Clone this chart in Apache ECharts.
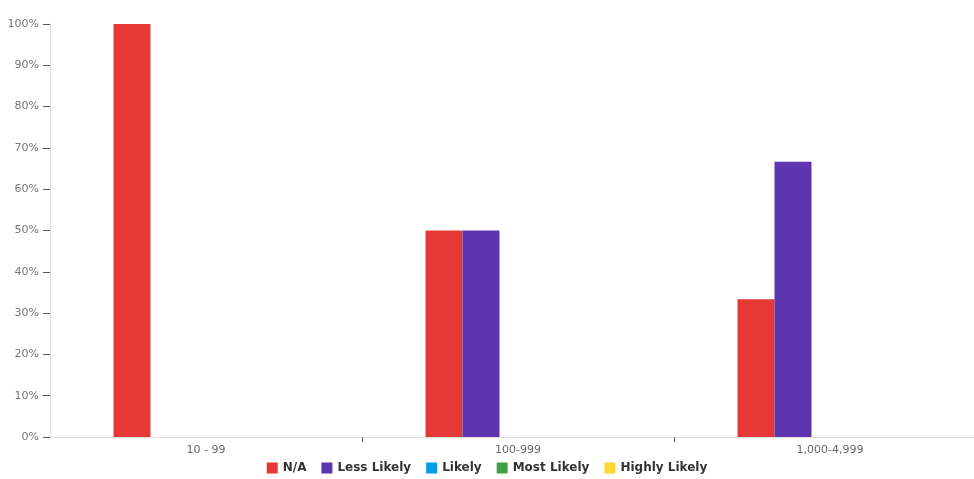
<!DOCTYPE html>
<html>
<head>
<meta charset="utf-8">
<script src="https://cdn.jsdelivr.net/npm/echarts@6/dist/echarts.min.js"></script>
<style>
  html, body { margin: 0; padding: 0; background: #fff; }
  #chart { width: 974px; height: 479px; }
</style>
</head>
<body>
<div id="chart"></div>
<script>
// Company size buckets and share of responses per likelihood level (%)
const categories = ['10 - 99', '100-999', '1,000-4,999'];
const seriesNames = ['N/A', 'Less Likely', 'Likely', 'Most Likely', 'Highly Likely'];
const naValues = [100, 50, 33.33];
const lessLikelyValues = [0, 50, 66.67];
const likelyValues = [0, 0, 0];
const mostLikelyValues = [0, 0, 0];
const highlyLikelyValues = [0, 0, 0];
const yTicks = [0, 10, 20, 30, 40, 50, 60, 70, 80, 90, 100];

const colors = ['#e53935', '#5e35b1', '#039be5', '#43a047', '#fdd835'];
const values = [naValues, lessLikelyValues, likelyValues, mostLikelyValues, highlyLikelyValues];

const chart = echarts.init(document.getElementById('chart'), null, { renderer: 'canvas' });
chart.setOption({
  animation: false,
  textStyle: { fontFamily: 'DejaVu Sans' },
  // the plot runs a little past the right edge of the canvas
  grid: { left: 50, width: 936, top: 24, height: 413, containLabel: false, outerBoundsMode: 'none' },
  legend: {
    bottom: 0,
    left: 'center',
    itemWidth: 11,
    itemHeight: 11,
    itemGap: 15,
    icon: 'rect',
    textStyle: { color: '#333', fontSize: 12, fontWeight: 'bold', fontFamily: 'DejaVu Sans' },
    data: seriesNames
  },
  xAxis: {
    type: 'category',
    data: categories,
    axisLine: { lineStyle: { color: '#e0e0e0', width: 1 } },
    axisTick: { show: true, length: 5, interval: (i) => i > 0, lineStyle: { color: '#555' } },
    axisLabel: { color: '#666', fontSize: 11, margin: 8 }
  },
  yAxis: {
    type: 'value',
    min: yTicks[0],
    max: yTicks[yTicks.length - 1],
    interval: 10,
    axisLine: { show: true, lineStyle: { color: '#e0e0e0' } },
    axisTick: { show: true, length: 7, lineStyle: { color: '#555' } },
    splitLine: { show: false },
    axisLabel: { color: '#777', fontSize: 11, margin: 11, formatter: '{value}%' }
  },
  series: seriesNames.map((name, i) => ({
    name: name,
    type: 'bar',
    data: values[i],
    barWidth: 37,
    barGap: '0%',
    itemStyle: { color: colors[i] }
  }))
});
</script>
</body>
</html>
